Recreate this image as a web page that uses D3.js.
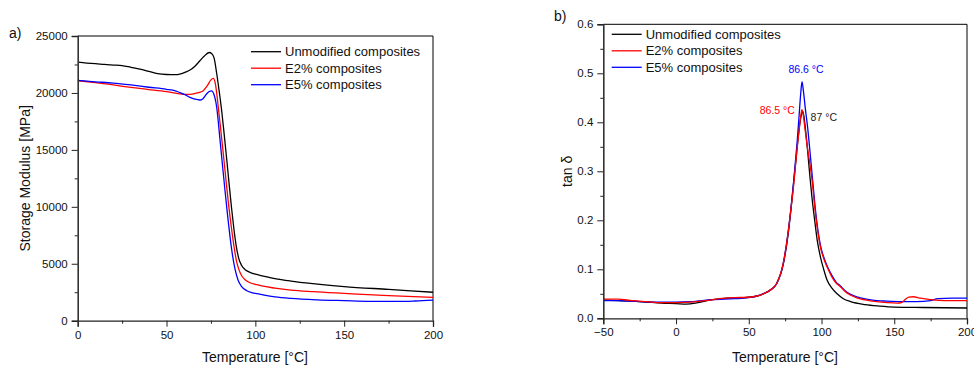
<!DOCTYPE html>
<html>
<head>
<meta charset="utf-8">
<script src="https://cdn.jsdelivr.net/npm/d3@7"></script>
<style>
  html, body { margin: 0; padding: 0; background: #fff; }
  svg text { font-family: "Liberation Sans", Arial, sans-serif; fill: #111; }
</style>
</head>
<body>
<svg id="chart" width="974" height="369"></svg>
<script>
// ---------- Data: (a) storage modulus [MPa] vs temperature [°C] ----------
const seriesNames = ["Unmodified composites", "E2% composites", "E5% composites"];
const seriesColors = ["#000000", "#ff0000", "#0000ff"];

const modulusUnmodified = [
  [0,22700],[5,22620],[10,22580],[15,22500],[20,22450],[25,22400],[30,22250],[35,22100],
  [40,21900],[45,21700],[50,21620],[55,21600],[58,21680],[61,21850],[63.2,22010],[66,22350],
  [68.8,22830],[71,23200],[74,23550],[75.5,23450],[76.8,23050],[78.2,21750],[79.6,20200],
  [81,18500],[82.5,16300],[84,14000],[85.3,11900],[86.6,9900],[87.9,8100],[89.2,6600],
  [90.6,5500],[92.3,4850],[94.5,4450],[97,4250],[100,4080],[104.5,3920],[111,3700],
  [120,3480],[132.5,3250],[150,3000],[175,2750],[200,2500]
];
const modulusE2 = [
  [0,21070],[10,20900],[20,20700],[30,20480],[40,20300],[50,20110],[55,19980],[60,19870],
  [63.2,19880],[66,19950],[68.5,20050],[70.7,20200],[73,20650],[75,21150],[76.3,21280],
  [77.5,20800],[79.1,18800],[80.5,16800],[82,14600],[83.5,12300],[85,10100],[86.5,8200],
  [88,6500],[89.3,5300],[90.6,4550],[92.3,3950],[94.2,3600],[97,3330],[100,3200],
  [103.6,3050],[111,2860],[120,2690],[132.5,2550],[150,2400],[175,2200],[200,2050]
];
const modulusE5 = [
  [0,21100],[10,20980],[20,20870],[30,20700],[40,20500],[50,20320],[55,20180],[58,20000],
  [61,19800],[63.2,19610],[66,19450],[68.8,19380],[70.5,19500],[72.5,19900],[74,20130],
  [75.4,20190],[76.5,19950],[78.2,18790],[80.1,15900],[81.6,13500],[83,11300],[84.4,9200],
  [85.8,7300],[87.2,5700],[88.6,4500],[90.3,3550],[92.3,3000],[95,2650],[98,2470],
  [101,2370],[105,2250],[111,2100],[120,1960],[135,1830],[150,1760],[165,1700],[180,1690],
  [190,1730],[200,1800]
];

// ---------- Data: (b) tan delta vs temperature [°C] ----------
const tanUnmodified = [
  [-50,0.037],[-40,0.036],[-30,0.035],[-20,0.033],[-10,0.031],[0,0.030],[7,0.029],[15,0.032],
  [25,0.038],[35,0.041],[45,0.042],[55,0.045],[60,0.05],[65,0.058],[69,0.07],[73.7,0.11],
  [77.2,0.175],[79,0.222],[80.6,0.27],[82.3,0.32],[83.8,0.365],[85.2,0.4],[86.2,0.416],
  [87,0.422],[87.8,0.414],[89,0.385],[90.5,0.34],[92,0.29],[93.5,0.245],[95.5,0.195],
  [97,0.16],[99.2,0.126],[101.5,0.1],[103.8,0.078],[107,0.062],[110.7,0.05],[115,0.04],
  [120,0.034],[130,0.028],[140,0.025],[150,0.023],[170,0.022],[200,0.021]
];
const tanE2 = [
  [-50,0.039],[-40,0.039],[-30,0.036],[-20,0.034],[-10,0.032],[0,0.032],[10,0.033],[20,0.036],
  [30,0.04],[40,0.042],[50,0.043],[55,0.045],[60,0.05],[65,0.058],[69,0.07],[73.7,0.112],
  [77.2,0.178],[79,0.224],[80.8,0.27],[82.2,0.315],[83.5,0.355],[85,0.395],[86,0.418],
  [86.5,0.426],[87.2,0.42],[88.5,0.39],[90,0.355],[91.6,0.323],[93.5,0.282],[95.8,0.214],
  [99.2,0.146],[101.5,0.122],[103.8,0.105],[107,0.085],[110,0.072],[113,0.0645],[116,0.055],
  [120,0.047],[125,0.041],[135,0.035],[145,0.032],[152,0.031],[155,0.032],[157,0.037],
  [160,0.043],[163,0.044],[168,0.041],[175,0.038],[185,0.036],[200,0.036]
];
const tanE5 = [
  [-50,0.036],[-40,0.036],[-25,0.034],[-10,0.033],[0,0.033],[10,0.034],[25,0.038],[40,0.040],
  [50,0.042],[55,0.045],[60,0.05],[65,0.058],[69,0.07],[73.7,0.112],[77.2,0.18],[79,0.225],
  [80.6,0.272],[82,0.318],[83.3,0.362],[84.5,0.41],[85.6,0.455],[86.6,0.483],[87.5,0.465],
  [88.8,0.43],[90.5,0.388],[92.6,0.323],[93.8,0.285],[95.8,0.222],[99.2,0.15],[101.5,0.125],
  [103.8,0.107],[107,0.088],[110,0.074],[113,0.066],[116,0.057],[120,0.049],[125,0.043],
  [135,0.037],[145,0.035],[155,0.034],[165,0.034],[175,0.036],[180,0.04],[190,0.041],[200,0.041]
];

// peak annotations
const peakLabels = ["87 °C", "86.5 °C", "86.6 °C"];
const peakTemps = [87, 86.5, 86.6];

// tick values
const xTicksA = [0, 50, 100, 150, 200];
const yTicksA = [0, 5000, 10000, 15000, 20000, 25000];
const xTicksB = [-50, 0, 50, 100, 150, 200];
const yTicksB = [0, 0.1, 0.2, 0.3, 0.4, 0.5, 0.6];

const modulusSeries = [modulusUnmodified, modulusE2, modulusE5];
const tanSeries = [tanUnmodified, tanE2, tanE5];

// ---------- Drawing ----------
const svg = d3.select("#chart");
svg.append("rect").attr("width", 974).attr("height", 369).attr("fill", "#fff");

function drawPanel(opts) {
  const { x, y, xTicks, yTicks, xMinor, yMinor, yFmt, series, title, titleX, titleY,
          yLabel, yLabelX, xLabelX, legendX, legendY } = opts;
  const g = svg.append("g");
  const [x0, x1] = x.range();
  const [y0, y1] = y.range();

  // frame: top and right borders
  g.append("line").attr("x1", x0).attr("x2", x1).attr("y1", y1).attr("y2", y1)
    .attr("stroke", "#000").attr("stroke-width", 1);
  g.append("line").attr("x1", x1).attr("x2", x1).attr("y1", y1).attr("y2", y0)
    .attr("stroke", "#000").attr("stroke-width", 1);

  const clipId = "clip" + Math.round(x0);
  svg.append("clipPath").attr("id", clipId).append("rect")
    .attr("x", x0).attr("y", y1 - 2).attr("width", x1 - x0).attr("height", y0 - y1 + 2);

  const line = d3.line().x(d => x(d[0])).y(d => y(d[1])).curve(d3.curveMonotoneX);
  const order = opts.order || [0, 1, 2];
  order.forEach(i => {
    g.append("path").attr("d", line(series[i])).attr("fill", "none")
      .attr("stroke", seriesColors[i]).attr("stroke-width", 1.3)
      .attr("stroke-linejoin", "round")
      .attr("clip-path", `url(#${clipId})`);
  });

  // x axis
  const xAxis = d3.axisBottom(x).tickValues(xTicks).tickSize(6).tickPadding(4)
    .tickFormat(d3.format("d"));
  const gx = g.append("g").attr("transform", `translate(0,${y0})`).call(xAxis);
  gx.selectAll("text").attr("font-size", 11.5).style("fill", "#111");
  gx.selectAll("line").attr("stroke", "#222");
  gx.select(".domain").attr("stroke", "#222").attr("stroke-width", 1.3);
  g.append("g").attr("transform", `translate(0,${y0})`)
    .call(d3.axisBottom(x).tickValues(xMinor).tickSize(3).tickFormat(""))
    .call(s => { s.select(".domain").remove(); s.selectAll("line").attr("stroke", "#222"); });

  // y axis
  const yAxis = d3.axisLeft(y).tickValues(yTicks).tickSize(6).tickPadding(4).tickFormat(yFmt);
  const gy = g.append("g").attr("transform", `translate(${x0},0)`).call(yAxis);
  gy.selectAll("text").attr("font-size", 11.5).style("fill", "#111");
  gy.selectAll("line").attr("stroke", "#222");
  gy.select(".domain").attr("stroke", "#333").attr("stroke-width", 1.6);
  g.append("g").attr("transform", `translate(${x0},0)`)
    .call(d3.axisLeft(y).tickValues(yMinor).tickSize(3).tickFormat(""))
    .call(s => { s.select(".domain").remove(); s.selectAll("line").attr("stroke", "#222"); });

  // axis titles
  g.append("text").attr("x", xLabelX).attr("y", 362).attr("text-anchor", "middle")
    .attr("font-size", 14).text("Temperature [°C]");
  g.append("text").attr("transform", `translate(${yLabelX},${(y0 + y1) / 2}) rotate(-90)`)
    .attr("text-anchor", "middle").attr("font-size", 14).text(yLabel);

  // panel label
  g.append("text").attr("x", titleX).attr("y", titleY).attr("font-size", 14).text(title);

  // legend
  seriesNames.forEach((name, i) => {
    const ly = legendY + i * 16.5;
    g.append("line").attr("x1", legendX).attr("x2", legendX + 30).attr("y1", ly).attr("y2", ly)
      .attr("stroke", seriesColors[i]).attr("stroke-width", 1.3);
    g.append("text").attr("x", legendX + 34).attr("y", ly + 4.5).attr("font-size", 13).text(name);
  });
  return g;
}

// Panel (a)
const xA = d3.scaleLinear().domain([0, 200]).range([77.7, 433]);
const yA = d3.scaleLinear().domain([0, 25000]).range([320.7, 36]);
drawPanel({
  x: xA, y: yA, xTicks: xTicksA, yTicks: yTicksA,
  xMinor: [25, 75, 125, 175], yMinor: [2500, 7500, 12500, 17500, 22500],
  yFmt: d3.format("d"), series: modulusSeries, order: [0, 1, 2],
  title: "a)", titleX: 9, titleY: 38,
  yLabel: "Storage Modulus [MPa]", yLabelX: 30, xLabelX: 255,
  legendX: 251, legendY: 51.7
});

// Panel (b)
const xB = d3.scaleLinear().domain([-50, 200]).range([603.3, 967]);
const yB = d3.scaleLinear().domain([0, 0.6]).range([318.3, 24.3]);
const gB = drawPanel({
  x: xB, y: yB, xTicks: xTicksB, yTicks: yTicksB,
  xMinor: [-25, 25, 75, 125, 175], yMinor: [0.05, 0.15, 0.25, 0.35, 0.45, 0.55],
  yFmt: d3.format(".1f"), series: tanSeries, order: [0, 2, 1],
  title: "b)", titleX: 554, titleY: 21,
  yLabel: "tan δ", yLabelX: 572, xLabelX: 785,
  legendX: 611.7, legendY: 34.3
});

// peak annotations (b)
const peakVals = tanSeries.map(s => d3.max(s, d => d[1]));
gB.append("text").attr("x", xB(peakTemps[2]) + 4).attr("y", yB(peakVals[2]) - 8.5)
  .attr("text-anchor", "middle").attr("font-size", 10.5).style("fill", seriesColors[2]).text(peakLabels[2]);
gB.append("text").attr("x", xB(peakTemps[1]) - 7).attr("y", yB(peakVals[1]) + 4)
  .attr("text-anchor", "end").attr("font-size", 10.5).style("fill", seriesColors[1]).text(peakLabels[1]);
gB.append("text").attr("x", xB(peakTemps[0]) + 8).attr("y", yB(peakVals[0]) + 9)
  .attr("text-anchor", "start").attr("font-size", 10.5).style("fill", "#222").text(peakLabels[0]);
</script>
</body>
</html>
